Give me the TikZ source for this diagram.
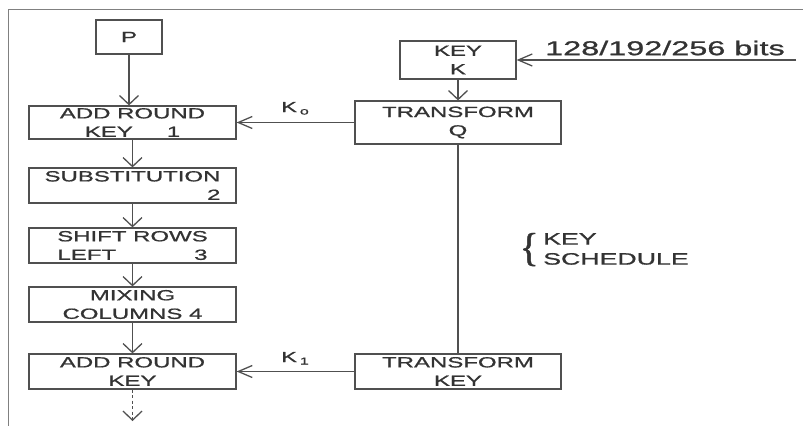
\documentclass[tikz,border=0pt]{standalone}
\usepackage{fontspec}
\usepackage{graphicx}
\setmainfont{Liberation Sans}
\newfontfamily\wf[FakeStretch=1.62,FakeBold=1]{Liberation Sans}
\newfontfamily\bracefont[FakeBold=1]{Liberation Serif}
\usetikzlibrary{arrows.meta}
\definecolor{ln}{HTML}{505050}
\definecolor{tx}{HTML}{333333}
\definecolor{fr}{HTML}{808080}
\begin{document}
\begin{tikzpicture}[x=1pt,y=-1pt,
  box/.style={draw=ln, line width=1.2pt, inner sep=0pt, text=tx,
    font=\wf\fontsize{14.8}{18.5}\selectfont, align=center},
  va/.style={draw=ln, line width=1.3pt, -{Straight Barb[length=9pt,width=19pt]}},
  ha/.style={draw=ln, line width=1.3pt, -{Straight Barb[length=14pt,width=12pt]}},
  plain/.style={draw=ln, line width=1.3pt},
  lab/.style={text=tx, inner sep=0pt}]
\useasboundingbox (0,0) rectangle (803,426);
\draw[fr, line width=1pt] (803,9) -- (8,9) -- (8,426);

% encryption column
\node[box, minimum width=66pt, minimum height=34pt] (P) at (129,37) {P};
\node[box, minimum width=207pt, minimum height=33pt] (ark1) at (132.5,122.5) {ADD ROUND\\KEY\hspace{34pt}1};
\node[box, minimum width=207pt, minimum height=35pt, align=right] (sub) at (132.5,185.5) {SUBSTITUTION\\2};
\node[box, minimum width=207pt, minimum height=35pt] (shift) at (132.5,245.5) {SHIFT ROWS\\\makebox[150pt]{LEFT\hfill 3}};
\node[box, minimum width=207pt, minimum height=35pt] (mix) at (132.5,304.5) {MIXING\\COLUMNS 4};
\node[box, minimum width=207pt, minimum height=35pt] (ark2) at (132.5,371.5) {ADD ROUND\\KEY};

% key schedule column
\node[box, minimum width=116pt, minimum height=38pt] (key) at (458,60) {KEY\\K};
\node[box, minimum width=206pt, minimum height=43pt] (tq) at (458,122.5) {TRANSFORM\\Q};
\node[box, minimum width=206pt, minimum height=35pt] (tk) at (458,371.5) {TRANSFORM\\KEY};

\coordinate (kin) at (796,60);
\coordinate (out) at (132.5,421);

% connectors
\draw[va] (P.south) -- (P.south |- ark1.north);
\draw[va] (ark1) -- (sub);
\draw[va] (sub) -- (shift);
\draw[va] (shift) -- (mix);
\draw[va] (mix) -- (ark2);
\draw[va, dash pattern=on 3pt off 2.5pt] (ark2) -- (out);
\draw[ha] (kin) -- (key.east);
\draw[va] (key) -- (tq);
\draw[ha] (tq.west) -- (ark1.east);
\draw[plain] (tq.south) -- (tk.north);
\draw[ha] (tk.west) -- (ark2.east);

% labels
\node[lab, font=\wf\fontsize{20}{24}\selectfont] (bits) at (665,48) {128/192/256 bits};
\node[lab, anchor=base west, font=\wf\fontsize{14.5}{16}\selectfont] (k0) at (281,112) {K\hspace{3pt}\raisebox{-2.5pt}{\fontsize{10}{10}\selectfont o}};
\node[lab, anchor=base west, font=\wf\fontsize{14.5}{16}\selectfont] (k1) at (281,362) {K\hspace{3pt}\raisebox{-2.5pt}{\fontsize{10}{10}\selectfont 1}};
\node[lab, anchor=east, font=\bracefont\fontsize{40}{40}\selectfont] (brace) at (539,249.5) {\{};
\node[lab, anchor=west, align=left, font=\wf\fontsize{16.5}{20}\selectfont] (ks) at (543,249) {KEY\\SCHEDULE};
\end{tikzpicture}
\end{document}
